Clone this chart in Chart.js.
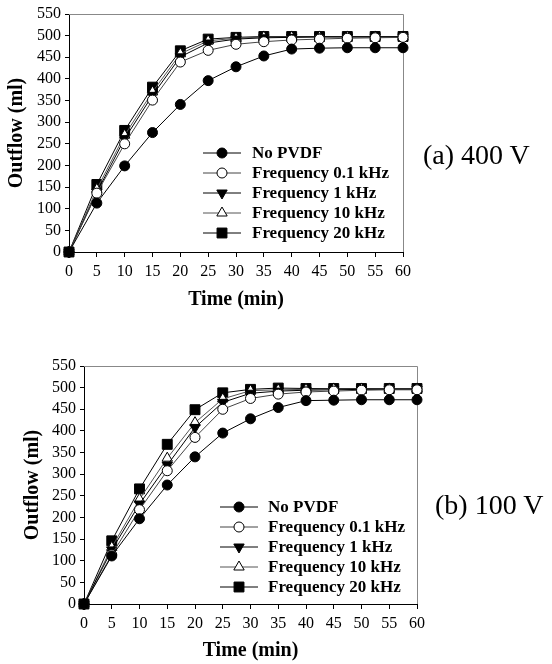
<!DOCTYPE html>
<html lang="en">
<head>
  <meta charset="UTF-8">
  <title>Outflow vs time</title>
  <style>
    body { margin: 0; background: #fff; }
    #wrap { position: relative; width: 552px; height: 664px; }
    canvas { position: absolute; left: 0; }
    .volt { position: absolute; font-family: 'Liberation Serif', serif; font-size: 28px; color: #000; }
  </style>
</head>
<body>
  <div id="wrap">
    <canvas id="chartA" width="552" height="320" style="top:0"></canvas>
    <canvas id="chartB" width="552" height="324" style="top:340px"></canvas>
    <div class="volt" style="left:423px; top:139px">(a) 400 V</div>
    <div class="volt" style="left:435px; top:489px">(b) 100 V</div>
  </div>

  <script src="https://cdn.jsdelivr.net/npm/chart.js"></script>
  <script>
    // tiempos (min)
    const times = [0, 5, 10, 15, 20, 25, 30, 35, 40, 45, 50, 55, 60];
    const seriesNames = ['No PVDF', 'Frequency 0.1 kHz', 'Frequency 1 kHz', 'Frequency 10 kHz', 'Frequency 20 kHz'];

    // (a) 400 V
    const noPvdfA = [0, 113, 199, 276, 341, 396, 428, 453, 469, 471, 472, 472, 472];
    const f01A    = [0, 136, 250, 351, 439, 466, 480, 486, 490, 492, 494, 495, 496];
    const f1A     = [0, 138, 262, 362, 451, 483, 492, 495, 496, 497, 497, 497, 497];
    const f10A    = [0, 145, 270, 370, 458, 488, 494, 497, 497, 497, 497, 497, 497];
    const f20A    = [0, 156, 281, 381, 465, 492, 496, 498, 498, 498, 498, 498, 498];

    // (b) 100 V
    const noPvdfB = [0, 111, 197, 275, 340, 395, 428, 454, 470, 471, 472, 472, 472];
    const f01B    = [0, 114, 218, 308, 385, 450, 475, 485, 490, 492, 494, 495, 495];
    const f1B     = [0, 125, 231, 321, 408, 466, 487, 492, 494, 495, 496, 496, 496];
    const f10B    = [0, 131, 242, 337, 419, 474, 493, 495, 496, 497, 497, 497, 497];
    const f20B    = [0, 146, 266, 369, 449, 488, 496, 499, 498, 498, 498, 498, 498];

    const yTicks = [0, 50, 100, 150, 200, 250, 300, 350, 400, 450, 500, 550];

    const styles = [
      { line: '#000', fill: '#000', shape: 'circle', r: 5, rot: 0 },
      { line: '#444', fill: '#fff', shape: 'circle', r: 5, rot: 0 },
      { line: '#000', fill: '#000', shape: 'triangle', r: 6, rot: 180 },
      { line: '#555', fill: '#fff', shape: 'triangle', r: 6, rot: 0 },
      { line: '#000', fill: '#000', shape: 'rect', r: 7, rot: 0 }
    ];

    function makeSets(arrs) {
      return arrs.map((vals, i) => ({
        label: seriesNames[i],
        data: times.map((t, k) => ({ x: t, y: vals[k] })),
        borderColor: styles[i].line,
        borderWidth: 1,
        pointStyle: styles[i].shape,
        pointRotation: styles[i].rot,
        pointRadius: styles[i].r,
        pointBackgroundColor: styles[i].fill,
        pointBorderColor: '#000',
        pointBorderWidth: 1,
        tension: 0,
        clip: false
      }));
    }

    function drawMarker(ctx, st, x, y) {
      ctx.save();
      ctx.fillStyle = st.fill;
      ctx.strokeStyle = '#000';
      ctx.lineWidth = 1;
      ctx.beginPath();
      if (st.shape === 'circle') {
        ctx.arc(x, y, st.r, 0, Math.PI * 2);
      } else if (st.shape === 'rect') {
        const s = st.r * Math.SQRT1_2;
        ctx.rect(x - s, y - s, 2 * s, 2 * s);
      } else {
        const a0 = st.rot * Math.PI / 180;
        for (let k = 0; k < 3; k++) {
          const a = a0 + k * 2 * Math.PI / 3;
          const px = x + Math.sin(a) * st.r, py = y - Math.cos(a) * st.r;
          if (k === 0) ctx.moveTo(px, py); else ctx.lineTo(px, py);
        }
        ctx.closePath();
      }
      ctx.fill();
      ctx.stroke();
      ctx.restore();
    }

    // caja gris + leyenda dentro del área
    const boxLegend = {
      id: 'boxLegend',
      beforeDatasetsDraw(chart) {
        const { ctx, chartArea: a } = chart;
        ctx.save();
        ctx.strokeStyle = '#888';
        ctx.lineWidth = 1;
        ctx.beginPath();
        ctx.moveTo(a.left, a.top + 0.5);
        ctx.lineTo(a.right + 0.5, a.top + 0.5);
        ctx.lineTo(a.right + 0.5, a.bottom);
        ctx.stroke();
        ctx.restore();
      },
      afterDraw(chart, args, o) {
        const ctx = chart.ctx;
        chart.data.datasets.forEach((ds, i) => {
          const y = o.y0 + i * o.rowH;
          ctx.save();
          ctx.strokeStyle = styles[i].line;
          ctx.lineWidth = 1;
          ctx.beginPath();
          ctx.moveTo(o.x0, y);
          ctx.lineTo(o.x1, y);
          ctx.stroke();
          ctx.restore();
          drawMarker(ctx, styles[i], (o.x0 + o.x1) / 2, y);
          ctx.save();
          ctx.fillStyle = '#000';
          ctx.font = 'bold 17px "Liberation Serif"';
          ctx.textBaseline = 'middle';
          ctx.fillText(ds.label, o.textX, y + 1);
          ctx.restore();
        });
      }
    };

    function makeChart(id, arrs, geo) {
      return new Chart(document.getElementById(id), {
        type: 'line',
        data: { datasets: makeSets(arrs) },
        options: {
          responsive: false,
          animation: false,
          layout: { padding: { top: geo.top, right: geo.right, left: 0, bottom: 0 } },
          plugins: {
            legend: { display: false },
            tooltip: { enabled: false },
            boxLegend: geo.legend
          },
          scales: {
            x: {
              type: 'linear', min: 0, max: 60,
              afterFit: s => { s.height = geo.xh; },
              ticks: { stepSize: 5, autoSkip: false, color: '#000', padding: 5, maxRotation: 0,
                       font: { family: 'Liberation Serif', size: 16 } },
              grid: { drawOnChartArea: false, tickLength: 5, color: '#000' },
              border: { color: '#000', width: 1 },
              title: { display: true, text: 'Time (min)', color: '#000',
                       padding: { bottom: geo.xtPad, top: 0 },
                       font: { family: 'Liberation Serif', size: 20, weight: 'bold' } }
            },
            y: {
              min: 0, max: 550,
              afterFit: s => { s.width = geo.yw; },
              afterBuildTicks: s => { s.ticks = yTicks.map(v => ({ value: v })); },
              ticks: { autoSkip: false, color: '#000', padding: 4,
                       font: { family: 'Liberation Serif', size: 16 } },
              grid: { drawOnChartArea: false, tickLength: 4, color: '#000' },
              border: { color: '#000', width: 1 },
              title: { display: true, text: 'Outflow (ml)', color: '#000',
                       padding: { top: geo.ytPad, bottom: 0 },
                       font: { family: 'Liberation Serif', size: 20, weight: 'bold' } }
            }
          }
        },
        plugins: [boxLegend]
      });
    }

    makeChart('chartA', [noPvdfA, f01A, f1A, f10A, f20A], {
      top: 14, right: 149, xh: 68, yw: 69, xtPad: 8, ytPad: 5,
      legend: { x0: 203, x1: 241, textX: 252, y0: 153, rowH: 20 }
    });
    makeChart('chartB', [noPvdfB, f01B, f1B, f10B, f20B], {
      top: 26, right: 135, xh: 60, yw: 84, xtPad: 1, ytPad: 21,
      legend: { x0: 220, x1: 258, textX: 268, y0: 167, rowH: 20 }
    });
  </script>
</body>
</html>
